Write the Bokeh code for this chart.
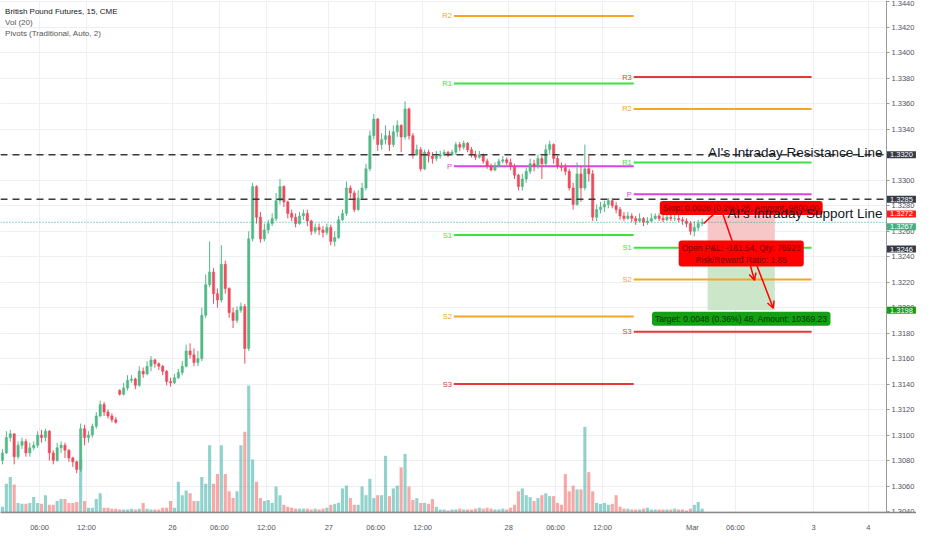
from bokeh.plotting import figure
from bokeh.models import (Range1d, FixedTicker, PrintfTickFormatter, Label,
                          Arrow, OpenHead, ColumnDataSource)
from bokeh.embed import file_html
from bokeh.resources import INLINE
from bokeh.core.properties import value

# ---------------- data (prices in pips above BASE, 30-min bars) ----------------
BASE = 1.3000
PIP = 0.0001

open_pips = [80,86,98,101,83,92,95,86,90,92,
             100,98,103,86,80,90,92,88,82,79,
             73,105,98,100,107,115,124,118,115,112,
             135,132,137,143,144,139,150,148,154,159,
             156,154,150,142,141,145,149,154,166,163,
             157,160,194,218,228,211,206,234,215,196,
             190,198,201,168,254,295,271,254,261,266,
             270,284,295,283,274,271,266,272,274,268,
             260,263,261,259,263,252,255,269,274,294,
             290,277,286,294,309,335,348,328,332,335,
             328,338,343,334,356,335,320,324,309,322,
             319,317,319,320,322,320,322,328,326,329,
             324,320,318,320,315,311,308,311,315,316,
             314,311,304,295,301,307,313,311,317,313,
             324,328,317,311,310,307,294,281,305,294,
             309,305,271,277,279,281,284,280,277,272,
             270,272,270,268,270,267,268,270,272,270,
             269,271,270,270,269,268,266,260,263,266]

high_pips = [89,103,104,101,95,98,97,94,95,103,
             104,105,104,88,94,95,94,89,83,80,
             109,108,103,109,118,127,126,120,117,114,
             136,141,147,147,145,154,153,158,162,160,
             157,155,151,145,148,152,158,171,172,168,
             166,200,226,252,231,215,249,237,216,200,
             201,204,203,260,298,296,275,266,269,274,
             290,301,296,284,277,274,275,277,277,269,
             266,266,264,266,265,260,272,277,299,296,
             292,292,298,313,339,352,349,337,343,339,
             343,347,344,362,357,337,328,326,324,324,
             322,323,323,324,323,324,330,330,331,330,
             326,323,323,321,317,313,314,317,319,318,
             317,313,305,305,310,317,316,320,319,328,
             331,329,319,314,313,309,298,314,311,328,
             320,308,281,283,284,286,286,283,279,275,
             275,274,272,274,271,271,274,274,274,273,
             274,273,274,273,271,270,268,268,269,270]

low_pips = [77,85,95,77,81,89,83,83,88,90,
            94,95,80,77,79,86,82,79,75,70,
            71,92,94,98,105,114,115,113,110,109,
            131,131,135,141,136,138,145,147,150,153,
            151,147,139,138,140,144,147,153,160,154,
            154,158,192,216,203,200,204,211,192,184,
            188,196,156,166,252,266,251,252,258,264,
            268,281,279,270,268,263,265,269,264,257,
            258,257,255,257,249,248,254,268,272,286,
            275,276,285,292,307,332,323,324,328,323,
            326,334,322,332,332,317,319,307,308,314,
            313,315,317,319,318,319,320,323,324,322,
            318,316,317,313,309,307,307,310,313,312,
            308,301,292,292,298,305,307,309,301,311,
            320,313,309,307,304,292,277,280,283,292,
            299,268,268,274,275,278,278,274,269,268,
            269,267,265,267,264,265,267,269,268,267,
            268,268,268,267,265,263,257,256,260,264]

close_pips = [86,98,101,83,92,95,86,90,92,100,
              98,103,86,80,90,92,88,82,79,73,
              105,98,100,107,115,124,118,115,112,110,
              132,137,143,144,139,150,148,154,159,156,
              154,150,142,141,145,149,154,166,163,157,
              160,194,218,228,211,206,234,215,196,190,
              198,201,168,254,295,271,254,261,266,270,
              284,295,283,274,271,266,272,274,268,260,
              263,261,259,263,252,255,269,274,294,290,
              277,286,294,309,335,348,328,332,335,328,
              338,343,334,356,335,320,324,309,322,319,
              317,319,320,322,320,322,328,326,329,324,
              320,318,320,315,311,308,311,315,316,314,
              311,304,295,301,307,313,311,317,313,324,
              328,317,311,310,307,294,281,305,294,309,
              305,271,277,279,281,284,280,277,272,270,
              272,270,268,270,267,268,270,272,270,269,
              271,270,270,269,268,266,260,263,266,267]

volume = [6,30,37,29,10,9,9,10,16,10,
          9,18,8,8,12,14,14,10,10,11,
          55,12,5,5,14,20,5,5,4,4,
          3,3,3,4,3,4,10,4,3,3,
          3,5,5,12,5,32,18,23,20,12,
          12,37,30,70,30,40,70,40,22,15,
          22,70,84,132,55,32,15,12,13,10,
          27,18,8,6,5,4,4,4,4,3,
          4,3,4,5,8,9,10,25,28,15,
          8,8,27,18,35,15,18,18,59,17,
          25,28,47,61,27,13,15,10,10,9,
          14,6,3,3,2,3,3,4,3,3,
          3,4,5,4,5,4,3,3,4,3,
          5,8,22,25,18,16,12,15,18,20,
          17,17,10,8,40,22,28,24,24,89,
          42,22,10,9,10,8,9,18,6,4,
          4,3,3,3,4,5,3,3,3,3,
          3,3,4,3,3,2,4,8,11,4]

time_ticks = [9.5, 21.5, 43.5, 55.5, 67.5, 83.5, 95.5, 107.5, 129.5, 141.5,
              153.5, 176.5, 187.5, 207.5, 221.5]
time_labels = ["06:00", "12:00", "26", "06:00", "12:00", "27", "06:00", "12:00", "28", "06:00",
               "12:00", "Mar", "06:00", "3", "4"]

price_ticks = [1.3040, 1.3060, 1.3080, 1.3100, 1.3120, 1.3140, 1.3160, 1.3180, 1.3200,
               1.3220, 1.3240, 1.3260, 1.3280, 1.3300, 1.3320, 1.3340, 1.3360, 1.3380,
               1.3400, 1.3420, 1.3440]

# pivot sessions (bar index span) and levels
piv_sessions = [(115.5, 161.5), (161.5, 207.0)]
piv1_names = ["R2", "R1", "P", "S1", "S2", "S3"]
piv1_values = [1.3429, 1.3376, 1.3311, 1.3257, 1.3193, 1.3140]
piv2_names = ["R3", "R2", "R1", "P", "S1", "S2", "S3"]
piv2_values = [1.3381, 1.3356, 1.3314, 1.3289, 1.3247, 1.3222, 1.3181]
piv_colors = {"R3": "#e53935", "R2": "#f5a623", "R1": "#3fe03f", "P": "#e040e8",
              "S1": "#3fe03f", "S2": "#f5a623", "S3": "#e53935"}

resistance_line = 1.3320
support_line = 1.3285
last_price = 1.3267

# short position tool
pos_span = (180.4, 197.6)
entry_price = 1.3246
stop_price = 1.3272
target_price = 1.3198
stop_text = "Stop: 0.0026 (0.2%) 26, Amount: 9800.00"
pnl_text = "Open P&L: -161.54, Qty: 76923\nRisk/Reward Ratio: 1.85"
target_text = "Target: 0.0048 (0.36%) 48, Amount: 10369.23"

# arrows drawn by the author: (x_start, y_start, x_end, y_end, head)
arrows = [(179.4, 1.32660, 183.9, 1.32789, True),
          (183.9, 1.32770, 187.6, 1.32440, False),
          (190.6, 1.32410, 192.4, 1.32215, True),
          (192.0, 1.32410, 197.2, 1.31995, True)]

# price tags on the right scale: (price, colour, vertical shift px)
price_tags = [(1.3320, "#363a45", 0), (1.3285, "#363a45", 0), (1.3272, "#ff1a1a", 2),
              (1.3267, "#3fb27f", -4.5), (1.3246, "#363a45", 0), (1.3198, "#129c12", 0)]

header_lines = ["British Pound Futures, 15, CME", "Vol (20)", "Pivots (Traditional, Auto, 2)"]
header_y = [1.343245, 1.342415, 1.341547]

# ---------------- build ----------------
UP, DOWN = "#53b987", "#eb4d5c"
VUP, VDOWN = "#26a69a", "#ef5350"
FONT = "Liberation Sans"

xs = list(range(len(close_pips)))
o = [BASE + v * PIP for v in open_pips]
h = [BASE + v * PIP for v in high_pips]
l = [BASE + v * PIP for v in low_pips]
c = [BASE + v * PIP for v in close_pips]
is_up = [cc >= oo for oo, cc in zip(o, c)]
src = ColumnDataSource(dict(
    x=xs, open=o, high=h, low=l, close=c,
    top=[max(a, b) for a, b in zip(o, c)], bottom=[min(a, b) for a, b in zip(o, c)],
    color=[UP if u else DOWN for u in is_up],
    vcolor=[VUP if u else VDOWN for u in is_up],
    volume=volume))

X0 = -0.5          # left edge of the chart
X_AXIS = 226.16    # where the price scale sits
X_END = 233.84     # right edge of the page (scale area)
Y0, Y1 = 1.30392, 1.34411

p = figure(width=916, height=534, x_range=Range1d(X0, X_END), y_range=Range1d(Y0, Y1),
           output_backend="svg", toolbar_location=None, y_axis_location="right",
           min_border_left=0, min_border_top=0, min_border_right=0, min_border_bottom=17,
           background_fill_color="white", border_fill_color="white")
p.outline_line_color = None
p.extra_y_ranges = {"vol": Range1d(0, 532.5)}

yax = p.yaxis[0]
yax.fixed_location = X_AXIS
yax.ticker = FixedTicker(ticks=price_ticks)
yax.formatter = PrintfTickFormatter(format="%.4f")
yax.major_label_text_font = FONT
yax.major_label_text_font_size = "7.5px"
yax.major_label_text_color = "#50535e"
yax.axis_line_color = "#9a9a9a"
yax.major_tick_line_color = "#9a9a9a"
yax.major_tick_out = 3
yax.major_tick_in = 0
yax.minor_tick_line_color = None
yax.major_label_standoff = 2

xax = p.xaxis[0]
xax.ticker = FixedTicker(ticks=time_ticks)
xax.major_label_overrides = dict(zip(time_ticks, time_labels))
xax.major_label_text_font = FONT
xax.major_label_text_font_size = "7.5px"
xax.major_label_text_color = "#50535e"
xax.axis_line_color = "#8a8a8a"
xax.axis_line_width = 1.5
xax.major_tick_line_color = None
xax.minor_tick_line_color = None
xax.major_label_standoff = 4

p.xgrid.ticker = FixedTicker(ticks=time_ticks)
p.ygrid.ticker = FixedTicker(ticks=price_ticks)
p.xgrid.grid_line_color = "#eceff4"
p.ygrid.grid_line_color = "#eceff4"

# blank scale area (hides the grid behind the price scale)
p.quad(left=[X_AXIS], right=[X_END], bottom=[Y0], top=[Y1], fill_color="white", line_color=None)

# volume
p.vbar(x="x", top="volume", bottom=0, width=0.8, fill_color="vcolor", fill_alpha=0.5,
       line_color=None, y_range_name="vol", source=src)

# position zones
p.quad(left=[pos_span[0]], right=[pos_span[1]], bottom=[entry_price], top=[stop_price],
       fill_color="#f7c6c7", line_color=None)
p.quad(left=[pos_span[0]], right=[pos_span[1]], bottom=[target_price], top=[entry_price],
       fill_color="#cce6c9", line_color=None)

# pivots
for (start, end), names, vals in [(piv_sessions[0], piv1_names, piv1_values),
                                  (piv_sessions[1], piv2_names, piv2_values)]:
    cols = [piv_colors[n] for n in names]
    p.segment(x0=[start] * len(vals), x1=[end] * len(vals), y0=vals, y1=vals,
              line_color=cols, line_width=2)
    p.text(x=[start] * len(vals), y=vals, text=names, text_color=cols,
           text_align="right", text_baseline="middle", x_offset=-2,
           text_font=value(FONT), text_font_size="7.5px")

# candles
p.segment(x0="x", y0="high", x1="x", y1="low", line_color="color", line_width=1, source=src)
p.vbar(x="x", top="top", bottom="bottom", width=0.6, fill_color="color",
       line_color="color", line_width=0.5, source=src)

# horizontal lines (stop at the price scale)
p.segment(x0=[X0, X0], x1=[X_AXIS, X_AXIS], y0=[resistance_line, support_line],
          y1=[resistance_line, support_line], line_color="#3a3a3a", line_width=1.5,
          line_dash="7 5")
p.segment(x0=[X0], x1=[X_AXIS], y0=[last_price], y1=[last_price], line_color="#26a69a",
          line_width=1, line_dash="1 2")

# arrows
for x0, y0, x1, y1, head in arrows:
    p.add_layout(Arrow(x_start=x0, y_start=y0, x_end=x1, y_end=y1,
                       line_color="#ff0000", line_width=1.5,
                       end=OpenHead(size=7, line_color="#ff0000", line_width=1.5) if head else None))

mid = (pos_span[0] + pos_span[1]) / 2
box_pad = dict(left=3, right=3, top=2, bottom=2)
p.add_layout(Label(x=mid, y=stop_price, y_offset=8, text=stop_text, text_align="center",
                   text_baseline="middle", text_font=FONT, text_font_size="8.5px",
                   text_color="#7a0000", background_fill_color="#ff0000",
                   padding=box_pad, border_radius=3))
p.add_layout(Label(x=mid, y=entry_price, y_offset=-4.5, text=pnl_text, text_align="center",
                   text_baseline="middle", text_font=FONT, text_font_size="8.5px",
                   text_color="#7a0000", background_fill_color="#ff0000",
                   padding=box_pad, border_radius=3))
p.add_layout(Label(x=mid, y=target_price, y_offset=-8.5, text=target_text, text_align="center",
                   text_baseline="middle", text_font=FONT, text_font_size="8.5px",
                   text_color="#003800", background_fill_color="#13a013",
                   padding=box_pad, border_radius=3))

# AI line captions
p.add_layout(Label(x=X_AXIS, y=resistance_line, x_offset=-4, y_offset=2,
                   text="AI's Intraday Resistance Line", text_align="right",
                   text_baseline="alphabetic", text_font=FONT, text_font_size="13.5px",
                   text_color="#131722"))
p.add_layout(Label(x=X_AXIS, y=support_line, x_offset=-4, y_offset=-14,
                   text="AI's Intraday Support Line", text_align="right",
                   text_baseline="alphabetic", text_font=FONT, text_font_size="13.5px",
                   text_color="#131722"))

# header
for i, (txt, yy) in enumerate(zip(header_lines, header_y)):
    p.add_layout(Label(x=0.68, y=yy, text=txt, text_align="left", text_baseline="middle",
                       text_font=FONT, text_font_size="8px",
                       text_color="#131722" if i == 0 else "#555555"))

# price tags on the scale
for pr, col, shift in price_tags:
    p.add_layout(Label(x=X_AXIS, y=pr, x_offset=0.5, y_offset=shift, text=f"{pr:.4f}",
                       text_align="left", text_baseline="middle", text_font=FONT,
                       text_font_size="7.5px", text_color="white",
                       background_fill_color=col, padding=dict(left=3, right=3, top=1, bottom=1)))

open("out.html", "w").write(file_html(p, INLINE))
